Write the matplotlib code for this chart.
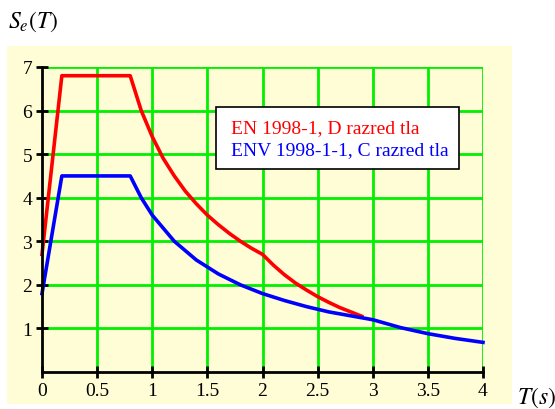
import numpy as np
import matplotlib.pyplot as plt
from matplotlib.patches import Rectangle

plt.rcParams["font.family"] = "Liberation Serif"
plt.rcParams["mathtext.fontset"] = "stix"

# EN 1998-1, soil D (red)
t_en = [0.0, 0.18, 0.8, 0.9, 1.0, 1.1, 1.2, 1.3, 1.4, 1.5, 1.6, 1.7, 1.8, 1.9, 2.0,
        2.1, 2.2, 2.3, 2.4, 2.5, 2.6, 2.7, 2.8, 2.9]
se_en = [2.7, 6.8, 6.8, 6.0, 5.4, 4.9, 4.5, 4.15, 3.86, 3.6, 3.38, 3.18, 3.0, 2.84, 2.7,
         2.45, 2.23, 2.04, 1.88, 1.73, 1.6, 1.48, 1.38, 1.28]
# ENV 1998-1-1, soil C (blue)
t_env = [0.0, 0.18, 0.8, 0.9, 1.0, 1.2, 1.4, 1.6, 1.8, 2.0, 2.2, 2.4, 2.6, 2.8, 3.0,
         3.25, 3.5, 3.75, 4.0]
se_env = [1.8, 4.5, 4.5, 4.0, 3.6, 3.0, 2.57, 2.25, 2.0, 1.8, 1.64, 1.5, 1.38, 1.29, 1.2,
          1.02, 0.88, 0.77, 0.68]

xticks = [0, 0.5, 1, 1.5, 2, 2.5, 3, 3.5, 4]
xlabels = ["0", "0.5", "1", "1.5", "2", "2.5", "3", "3.5", "4"]
yticks = [1, 2, 3, 4, 5, 6, 7]

W, H = 555, 410
fig = plt.figure(figsize=(W / 100, H / 100), dpi=100)
fig.patch.set_facecolor("white")
# light yellow panel behind the chart
bg = fig.add_axes([7 / W, 1 - 405 / H, 505 / W, 358 / H], zorder=-1)
bg.set_facecolor("#fffdd6")
bg.set_xticks([])
bg.set_yticks([])
for s in bg.spines.values():
    s.set_visible(False)

ax = fig.add_axes([42 / W, 1 - 373 / H, 441 / W, 305 / H])
ax.set_facecolor("none")
ax.set_xlim(0, 4)
ax.set_ylim(0, 7)

for x in xticks[1:]:
    ax.axvline(x, color="#00f000", lw=2, zorder=1)
for y in yticks:
    ax.axhline(y, color="#00f000", lw=2, zorder=1)

ax.plot(t_en, se_en, color="#ff0000", lw=2.6, zorder=3, clip_on=False)
ax.plot(t_env, se_env, color="#0000ff", lw=2.6, zorder=4, clip_on=False)

for s in ["top", "right"]:
    ax.spines[s].set_visible(False)
for s in ["left", "bottom"]:
    ax.spines[s].set_linewidth(2)
    ax.spines[s].set_zorder(5)

ax.set_xticks(xticks)
ax.set_xticklabels(xlabels)
ax.set_yticks(yticks)
ax.tick_params(direction="inout", length=8, width=2, labelsize=14, pad=3)

# legend box
ax.add_patch(Rectangle((0.395, 0.666), 0.55, 0.203, transform=ax.transAxes,
                       facecolor="white", edgecolor="black", lw=1.2, zorder=6))
ax.text(0.428, 0.80, "EN 1998-1, D razred tla", color="#ff0000", fontsize=14,
        transform=ax.transAxes, va="center", zorder=7)
ax.text(0.428, 0.728, "ENV 1998-1-1, C razred tla", color="#0000ff", fontsize=14,
        transform=ax.transAxes, va="center", zorder=7)

fig.text(8 / W, 1 - 22 / H, r"$S_e(T)$", fontsize=17, va="center", ha="left")
fig.text(517 / W, 1 - 398 / H, r"$T(s)$", fontsize=17, va="center", ha="left")

fig.savefig("out.png", dpi=100)
